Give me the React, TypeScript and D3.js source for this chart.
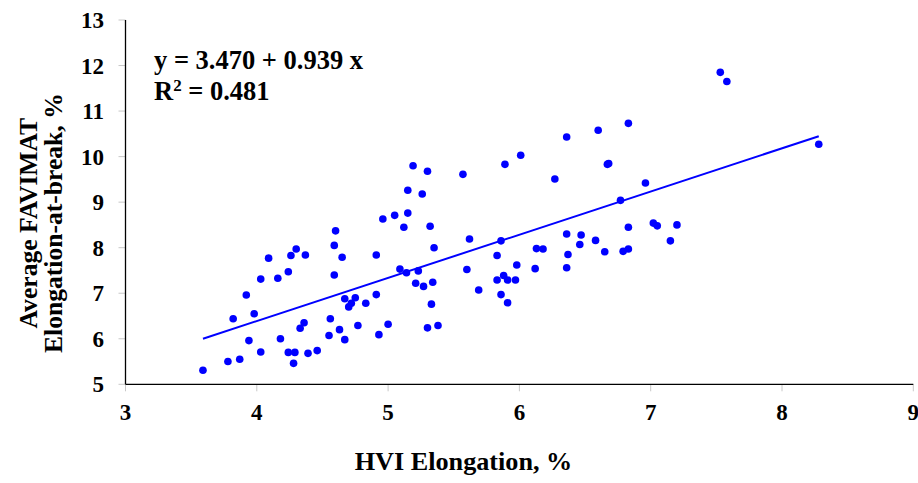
import React from 'react';
import * as d3 from 'd3';

// HVI elongation (%) for each sample
const hviElongation = [
  3.59, 3.78, 3.87, 3.82, 3.92, 3.98, 3.94, 4.03, 4.03, 4.09,
  4.16, 4.24, 4.26, 4.30, 4.37, 4.18, 4.24, 4.29, 4.28, 4.33,
  4.36, 4.39, 4.46, 4.60, 4.59, 4.65, 4.59, 4.67, 4.75, 4.70,
  4.72, 4.56, 4.63, 4.55, 4.67, 4.83, 4.77, 4.91, 4.91, 4.96,
  5.05, 5.15, 5.12, 5.15, 5.09, 5.14, 4.93, 5.00, 5.19, 5.30,
  5.26, 5.32, 5.35, 5.23, 5.21, 5.27, 5.34, 5.33, 5.30, 5.38,
  5.57, 5.89, 5.62, 5.86, 5.83, 5.60, 5.69, 5.83, 5.88, 5.91,
  5.86, 5.91, 6.01, 6.36, 6.60, 6.83, 6.67, 6.68, 6.27, 6.96,
  6.77, 5.97, 5.98, 6.12, 6.13, 6.18, 6.36, 6.47, 6.46, 6.37,
  6.36, 6.58, 6.65, 6.79, 6.83, 6.83, 7.02, 7.05, 7.20, 7.15,
  7.53, 7.58, 8.28,
];

// Average FAVIMAT elongation-at-break (%) for the same samples
const favimatElongation = [
  5.31, 5.50, 5.55, 6.44, 6.96, 6.55, 5.96, 5.71, 7.31, 7.77,
  7.33, 7.47, 7.83, 7.97, 7.84, 6.00, 5.70, 5.70, 5.46, 6.23,
  6.35, 5.68, 5.74, 8.37, 8.05, 7.79, 7.40, 6.88, 6.90, 6.70,
  6.78, 6.44, 6.20, 6.07, 5.98, 6.78, 6.29, 6.97, 7.84, 8.63,
  8.71, 8.76, 8.45, 9.26, 7.53, 7.45, 6.09, 6.32, 9.80, 9.68,
  9.18, 8.47, 8.00, 7.49, 7.22, 7.15, 7.24, 6.76, 6.24, 6.29,
  9.61, 9.83, 8.19, 8.15, 7.83, 7.52, 7.07, 7.29, 7.39, 7.29,
  6.97, 6.79, 10.03, 10.43, 10.58, 10.73, 9.83, 9.85, 9.51, 9.42,
  9.04, 7.29, 7.62, 7.54, 7.98, 7.97, 8.30, 8.28, 8.07, 7.85,
  7.56, 8.16, 7.91, 7.92, 7.97, 8.45, 8.54, 8.48, 8.50, 8.15,
  11.85, 11.65, 10.27,
];

const xTicks = [3, 4, 5, 6, 7, 8, 9];
const yTicks = [5, 6, 7, 8, 9, 10, 11, 12, 13];

const xTitle = 'HVI Elongation, %';
const yTitleLines = ['Average FAVIMAT', 'Elongation-at-break, %'];
const equationText = 'y = 3.470 + 0.939 x';
const r2Value = '0.481';

const FONT = '"Liberation Serif", "Times New Roman", serif';
const BLUE = '#0000ff';

export default function App() {
  const width = 918;
  const height = 483;

  const x = d3.scaleLinear().domain([3, 9]).range([125.5, 913.3]);
  const y = d3.scaleLinear().domain([5, 13]).range([384.3, 20]);

  const points = hviElongation.map((v, i) => [v, favimatElongation[i]] as [number, number]);

  // least-squares trend line over the range of the data
  const mx = d3.mean(hviElongation) as number;
  const my = d3.mean(favimatElongation) as number;
  const sxy = d3.sum(points, ([a, b]) => (a - mx) * (b - my));
  const sxx = d3.sum(hviElongation, (a) => (a - mx) * (a - mx));
  const slope = sxy / sxx;
  const intercept = my - slope * mx;
  const [x0, x1] = d3.extent(hviElongation) as [number, number];
  const trendPath = d3.line<[number, number]>()
    .x((d) => x(d[0]))
    .y((d) => y(d[1]))([
      [x0, intercept + slope * x0],
      [x1, intercept + slope * x1],
    ]);

  const [xl, xr] = x.range();
  const [yb, yt] = y.range();

  return (
    <svg
      width={width}
      height={height}
      style={{ position: 'absolute', left: 0, top: 0, background: '#fff' }}
      fontFamily={FONT}
      fontWeight="bold"
    >
      <rect width={width} height={height} fill="#fff" />

      {/* y ticks and labels */}
      {yTicks.map((t) => (
        <g key={`y${t}`}>
          <line x1={xl - 7} x2={xl} y1={y(t)} y2={y(t)} stroke="#c8c8c8" strokeWidth={1} />
          <text x={104} y={y(t) + 8} textAnchor="end" fontSize={23} fill="#000">
            {t}
          </text>
        </g>
      ))}

      {/* x ticks and labels */}
      {xTicks.map((t) => (
        <g key={`x${t}`}>
          <line x1={x(t)} x2={x(t)} y1={yb} y2={yb + 7} stroke="#c8c8c8" strokeWidth={1} />
          <text x={x(t)} y={yb + 36} textAnchor="middle" fontSize={23} fill="#000">
            {t}
          </text>
        </g>
      ))}

      {/* axis lines */}
      <line x1={xl} x2={xl} y1={yt} y2={yb} stroke="#000" strokeWidth={1.3} />
      <line x1={xl} x2={xr} y1={yb} y2={yb} stroke="#000" strokeWidth={1.3} />

      {/* data points */}
      {points.map(([a, b], i) => (
        <circle key={i} cx={x(a)} cy={y(b)} r={3.8} fill={BLUE} />
      ))}

      {/* trend line */}
      <path d={trendPath ?? ''} stroke={BLUE} strokeWidth={2} fill="none" />

      {/* fit annotation */}
      <text x={154} y={69} fontSize={26.5} fill="#000">
        {equationText}
      </text>
      <text x={154} y={100} fontSize={26.5} fill="#000">
        R<tspan fontSize={17} dy={-9}>2</tspan>
        <tspan dy={9}>{` = ${r2Value}`}</tspan>
      </text>

      {/* axis titles */}
      <text x={463.5} y={470} textAnchor="middle" fontSize={26.2} fill="#000">
        {xTitle}
      </text>
      <g transform={`translate(0, ${(yt + yb) / 2 + 21})`}>
        {yTitleLines.map((line, i) => (
          <text
            key={line}
            transform={`translate(${37 + i * 25}, 0) rotate(-90)`}
            textAnchor="middle"
            fontSize={25.6}
            fill="#000"
          >
            {line}
          </text>
        ))}
      </g>
    </svg>
  );
}
